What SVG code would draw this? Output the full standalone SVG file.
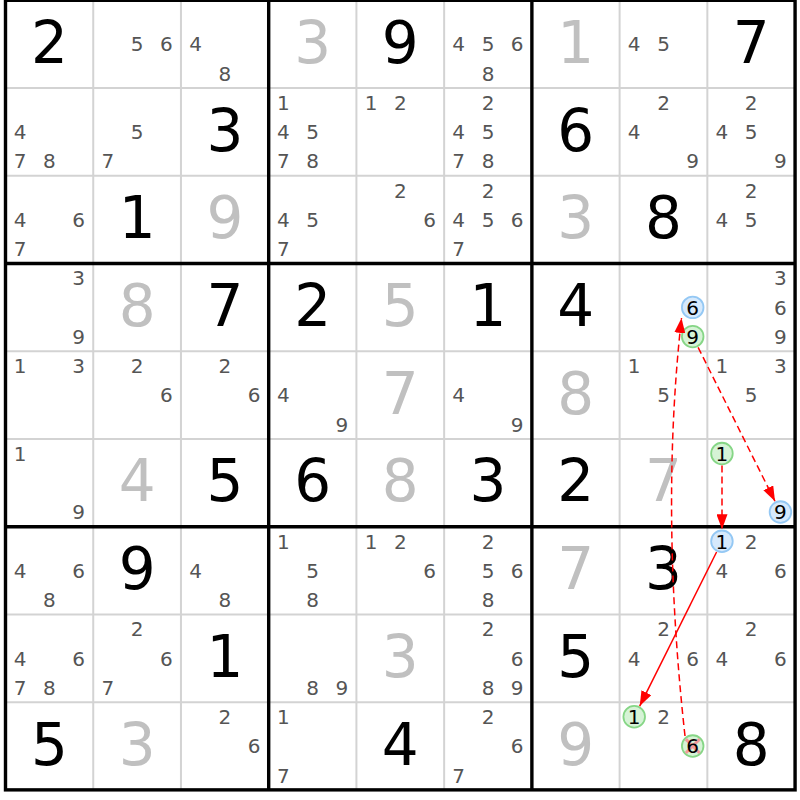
<svg xmlns="http://www.w3.org/2000/svg" width="800" height="800" viewBox="0 0 800 800">
<defs>
<style>
text{font-family:"DejaVu Sans",Verdana,sans-serif;text-anchor:middle}
.s{font-size:58px;fill:#000}
.g{font-size:58px;fill:#c0c0c0}
.c{font-size:20px;fill:#555}
.k{font-size:20px;fill:#000}
.thin{stroke:#d3d3d3;stroke-width:2}
.thick{stroke:#000;stroke-width:3.4;fill:none}
.blue{fill:#d6e9fc;stroke:#94c8f4;stroke-width:1.8}
.green{fill:#d6f3d6;stroke:#86d686;stroke-width:1.8}
.x{stroke:#f09a9a;stroke-width:3}
.arr{fill:none;stroke:#f00;stroke-width:1.5}
.dash{stroke-dasharray:7 4}
</style>
<marker id="ah" markerUnits="userSpaceOnUse" markerWidth="15" markerHeight="11" refX="15" refY="5.5" orient="auto"><path d="M0,0 L15,5.5 L0,11 z" fill="#f00"/></marker>
</defs>
<rect x="0" y="0" width="800" height="800" fill="#fff"/>
<g id="grid">
<g class="thin">
<line x1="93.23" y1="0.3" x2="93.23" y2="789.87"/>
<line x1="180.96" y1="0.3" x2="180.96" y2="789.87"/>
<line x1="356.42" y1="0.3" x2="356.42" y2="789.87"/>
<line x1="444.15" y1="0.3" x2="444.15" y2="789.87"/>
<line x1="619.61" y1="0.3" x2="619.61" y2="789.87"/>
<line x1="707.34" y1="0.3" x2="707.34" y2="789.87"/>
<line x1="5.5" y1="88.03" x2="795.07" y2="88.03"/>
<line x1="5.5" y1="175.76" x2="795.07" y2="175.76"/>
<line x1="5.5" y1="351.22" x2="795.07" y2="351.22"/>
<line x1="5.5" y1="438.95" x2="795.07" y2="438.95"/>
<line x1="5.5" y1="614.41" x2="795.07" y2="614.41"/>
<line x1="5.5" y1="702.14" x2="795.07" y2="702.14"/>
</g>
<g class="thick">
<line x1="268.69" y1="0.3" x2="268.69" y2="789.87"/>
<line x1="531.88" y1="0.3" x2="531.88" y2="789.87"/>
<line x1="5.5" y1="263.49" x2="795.07" y2="263.49"/>
<line x1="5.5" y1="526.68" x2="795.07" y2="526.68"/>
<rect x="5.5" y="0.3" width="789.57" height="789.57"/>
</g>
</g>
<g id="cells">
<!-- row 1 -->
<g id="r1c1" transform="translate(5.5,0.3)"><text class="s" x="43.9" y="62.5">2</text></g>
<g id="r1c2" transform="translate(93.23,0.3)"><text class="c" x="43.9" y="51.2">5</text><text class="c" x="73.1" y="51.2">6</text></g>
<g id="r1c3" transform="translate(180.96,0.3)"><text class="c" x="14.6" y="51.2">4</text><text class="c" x="43.9" y="80.4">8</text></g>
<g id="r1c4" transform="translate(268.69,0.3)"><text class="g" x="43.9" y="62.5">3</text></g>
<g id="r1c5" transform="translate(356.42,0.3)"><text class="s" x="43.9" y="62.5">9</text></g>
<g id="r1c6" transform="translate(444.15,0.3)"><text class="c" x="14.6" y="51.2">4</text><text class="c" x="43.9" y="51.2">5</text><text class="c" x="73.1" y="51.2">6</text><text class="c" x="43.9" y="80.4">8</text></g>
<g id="r1c7" transform="translate(531.88,0.3)"><text class="g" x="43.9" y="62.5">1</text></g>
<g id="r1c8" transform="translate(619.61,0.3)"><text class="c" x="14.6" y="51.2">4</text><text class="c" x="43.9" y="51.2">5</text></g>
<g id="r1c9" transform="translate(707.34,0.3)"><text class="s" x="43.9" y="62.5">7</text></g>
<!-- row 2 -->
<g id="r2c1" transform="translate(5.5,88.03)"><text class="c" x="14.6" y="51.2">4</text><text class="c" x="14.6" y="80.4">7</text><text class="c" x="43.9" y="80.4">8</text></g>
<g id="r2c2" transform="translate(93.23,88.03)"><text class="c" x="43.9" y="51.2">5</text><text class="c" x="14.6" y="80.4">7</text></g>
<g id="r2c3" transform="translate(180.96,88.03)"><text class="s" x="43.9" y="62.5">3</text></g>
<g id="r2c4" transform="translate(268.69,88.03)"><text class="c" x="14.6" y="21.9">1</text><text class="c" x="14.6" y="51.2">4</text><text class="c" x="43.9" y="51.2">5</text><text class="c" x="14.6" y="80.4">7</text><text class="c" x="43.9" y="80.4">8</text></g>
<g id="r2c5" transform="translate(356.42,88.03)"><text class="c" x="14.6" y="21.9">1</text><text class="c" x="43.9" y="21.9">2</text></g>
<g id="r2c6" transform="translate(444.15,88.03)"><text class="c" x="43.9" y="21.9">2</text><text class="c" x="14.6" y="51.2">4</text><text class="c" x="43.9" y="51.2">5</text><text class="c" x="14.6" y="80.4">7</text><text class="c" x="43.9" y="80.4">8</text></g>
<g id="r2c7" transform="translate(531.88,88.03)"><text class="s" x="43.9" y="62.5">6</text></g>
<g id="r2c8" transform="translate(619.61,88.03)"><text class="c" x="43.9" y="21.9">2</text><text class="c" x="14.6" y="51.2">4</text><text class="c" x="73.1" y="80.4">9</text></g>
<g id="r2c9" transform="translate(707.34,88.03)"><text class="c" x="43.9" y="21.9">2</text><text class="c" x="14.6" y="51.2">4</text><text class="c" x="43.9" y="51.2">5</text><text class="c" x="73.1" y="80.4">9</text></g>
<!-- row 3 -->
<g id="r3c1" transform="translate(5.5,175.76)"><text class="c" x="14.6" y="51.2">4</text><text class="c" x="73.1" y="51.2">6</text><text class="c" x="14.6" y="80.4">7</text></g>
<g id="r3c2" transform="translate(93.23,175.76)"><text class="s" x="43.9" y="62.5">1</text></g>
<g id="r3c3" transform="translate(180.96,175.76)"><text class="g" x="43.9" y="62.5">9</text></g>
<g id="r3c4" transform="translate(268.69,175.76)"><text class="c" x="14.6" y="51.2">4</text><text class="c" x="43.9" y="51.2">5</text><text class="c" x="14.6" y="80.4">7</text></g>
<g id="r3c5" transform="translate(356.42,175.76)"><text class="c" x="43.9" y="21.9">2</text><text class="c" x="73.1" y="51.2">6</text></g>
<g id="r3c6" transform="translate(444.15,175.76)"><text class="c" x="43.9" y="21.9">2</text><text class="c" x="14.6" y="51.2">4</text><text class="c" x="43.9" y="51.2">5</text><text class="c" x="73.1" y="51.2">6</text><text class="c" x="14.6" y="80.4">7</text></g>
<g id="r3c7" transform="translate(531.88,175.76)"><text class="g" x="43.9" y="62.5">3</text></g>
<g id="r3c8" transform="translate(619.61,175.76)"><text class="s" x="43.9" y="62.5">8</text></g>
<g id="r3c9" transform="translate(707.34,175.76)"><text class="c" x="43.9" y="21.9">2</text><text class="c" x="14.6" y="51.2">4</text><text class="c" x="43.9" y="51.2">5</text></g>
<!-- row 4 -->
<g id="r4c1" transform="translate(5.5,263.49)"><text class="c" x="73.1" y="21.9">3</text><text class="c" x="73.1" y="80.4">9</text></g>
<g id="r4c2" transform="translate(93.23,263.49)"><text class="g" x="43.9" y="62.5">8</text></g>
<g id="r4c3" transform="translate(180.96,263.49)"><text class="s" x="43.9" y="62.5">7</text></g>
<g id="r4c4" transform="translate(268.69,263.49)"><text class="s" x="43.9" y="62.5">2</text></g>
<g id="r4c5" transform="translate(356.42,263.49)"><text class="g" x="43.9" y="62.5">5</text></g>
<g id="r4c6" transform="translate(444.15,263.49)"><text class="s" x="43.9" y="62.5">1</text></g>
<g id="r4c7" transform="translate(531.88,263.49)"><text class="s" x="43.9" y="62.5">4</text></g>
<g id="r4c8" transform="translate(619.61,263.49)"><circle class="blue" cx="73.1" cy="43.9" r="10.8"/><text class="k" x="73.1" y="51.2">6</text><circle class="green" cx="73.1" cy="73.1" r="10.8"/><text class="k" x="73.1" y="80.4">9</text></g>
<g id="r4c9" transform="translate(707.34,263.49)"><text class="c" x="73.1" y="21.9">3</text><text class="c" x="73.1" y="51.2">6</text><text class="c" x="73.1" y="80.4">9</text></g>
<!-- row 5 -->
<g id="r5c1" transform="translate(5.5,351.22)"><text class="c" x="14.6" y="21.9">1</text><text class="c" x="73.1" y="21.9">3</text></g>
<g id="r5c2" transform="translate(93.23,351.22)"><text class="c" x="43.9" y="21.9">2</text><text class="c" x="73.1" y="51.2">6</text></g>
<g id="r5c3" transform="translate(180.96,351.22)"><text class="c" x="43.9" y="21.9">2</text><text class="c" x="73.1" y="51.2">6</text></g>
<g id="r5c4" transform="translate(268.69,351.22)"><text class="c" x="14.6" y="51.2">4</text><text class="c" x="73.1" y="80.4">9</text></g>
<g id="r5c5" transform="translate(356.42,351.22)"><text class="g" x="43.9" y="62.5">7</text></g>
<g id="r5c6" transform="translate(444.15,351.22)"><text class="c" x="14.6" y="51.2">4</text><text class="c" x="73.1" y="80.4">9</text></g>
<g id="r5c7" transform="translate(531.88,351.22)"><text class="g" x="43.9" y="62.5">8</text></g>
<g id="r5c8" transform="translate(619.61,351.22)"><text class="c" x="14.6" y="21.9">1</text><text class="c" x="43.9" y="51.2">5</text></g>
<g id="r5c9" transform="translate(707.34,351.22)"><text class="c" x="14.6" y="21.9">1</text><text class="c" x="73.1" y="21.9">3</text><text class="c" x="43.9" y="51.2">5</text></g>
<!-- row 6 -->
<g id="r6c1" transform="translate(5.5,438.95)"><text class="c" x="14.6" y="21.9">1</text><text class="c" x="73.1" y="80.4">9</text></g>
<g id="r6c2" transform="translate(93.23,438.95)"><text class="g" x="43.9" y="62.5">4</text></g>
<g id="r6c3" transform="translate(180.96,438.95)"><text class="s" x="43.9" y="62.5">5</text></g>
<g id="r6c4" transform="translate(268.69,438.95)"><text class="s" x="43.9" y="62.5">6</text></g>
<g id="r6c5" transform="translate(356.42,438.95)"><text class="g" x="43.9" y="62.5">8</text></g>
<g id="r6c6" transform="translate(444.15,438.95)"><text class="s" x="43.9" y="62.5">3</text></g>
<g id="r6c7" transform="translate(531.88,438.95)"><text class="s" x="43.9" y="62.5">2</text></g>
<g id="r6c8" transform="translate(619.61,438.95)"><text class="g" x="43.9" y="62.5">7</text></g>
<g id="r6c9" transform="translate(707.34,438.95)"><circle class="green" cx="14.6" cy="14.6" r="10.8"/><text class="k" x="14.6" y="21.9">1</text><circle class="blue" cx="73.1" cy="73.1" r="10.8"/><text class="k" x="73.1" y="80.4">9</text></g>
<!-- row 7 -->
<g id="r7c1" transform="translate(5.5,526.68)"><text class="c" x="14.6" y="51.2">4</text><text class="c" x="73.1" y="51.2">6</text><text class="c" x="43.9" y="80.4">8</text></g>
<g id="r7c2" transform="translate(93.23,526.68)"><text class="s" x="43.9" y="62.5">9</text></g>
<g id="r7c3" transform="translate(180.96,526.68)"><text class="c" x="14.6" y="51.2">4</text><text class="c" x="43.9" y="80.4">8</text></g>
<g id="r7c4" transform="translate(268.69,526.68)"><text class="c" x="14.6" y="21.9">1</text><text class="c" x="43.9" y="51.2">5</text><text class="c" x="43.9" y="80.4">8</text></g>
<g id="r7c5" transform="translate(356.42,526.68)"><text class="c" x="14.6" y="21.9">1</text><text class="c" x="43.9" y="21.9">2</text><text class="c" x="73.1" y="51.2">6</text></g>
<g id="r7c6" transform="translate(444.15,526.68)"><text class="c" x="43.9" y="21.9">2</text><text class="c" x="43.9" y="51.2">5</text><text class="c" x="73.1" y="51.2">6</text><text class="c" x="43.9" y="80.4">8</text></g>
<g id="r7c7" transform="translate(531.88,526.68)"><text class="g" x="43.9" y="62.5">7</text></g>
<g id="r7c8" transform="translate(619.61,526.68)"><text class="s" x="43.9" y="62.5">3</text></g>
<g id="r7c9" transform="translate(707.34,526.68)"><circle class="blue" cx="14.6" cy="14.6" r="10.8"/><text class="k" x="14.6" y="21.9">1</text><text class="c" x="43.9" y="21.9">2</text><text class="c" x="14.6" y="51.2">4</text><text class="c" x="73.1" y="51.2">6</text></g>
<!-- row 8 -->
<g id="r8c1" transform="translate(5.5,614.41)"><text class="c" x="14.6" y="51.2">4</text><text class="c" x="73.1" y="51.2">6</text><text class="c" x="14.6" y="80.4">7</text><text class="c" x="43.9" y="80.4">8</text></g>
<g id="r8c2" transform="translate(93.23,614.41)"><text class="c" x="43.9" y="21.9">2</text><text class="c" x="73.1" y="51.2">6</text><text class="c" x="14.6" y="80.4">7</text></g>
<g id="r8c3" transform="translate(180.96,614.41)"><text class="s" x="43.9" y="62.5">1</text></g>
<g id="r8c4" transform="translate(268.69,614.41)"><text class="c" x="43.9" y="80.4">8</text><text class="c" x="73.1" y="80.4">9</text></g>
<g id="r8c5" transform="translate(356.42,614.41)"><text class="g" x="43.9" y="62.5">3</text></g>
<g id="r8c6" transform="translate(444.15,614.41)"><text class="c" x="43.9" y="21.9">2</text><text class="c" x="73.1" y="51.2">6</text><text class="c" x="43.9" y="80.4">8</text><text class="c" x="73.1" y="80.4">9</text></g>
<g id="r8c7" transform="translate(531.88,614.41)"><text class="s" x="43.9" y="62.5">5</text></g>
<g id="r8c8" transform="translate(619.61,614.41)"><text class="c" x="43.9" y="21.9">2</text><text class="c" x="14.6" y="51.2">4</text><text class="c" x="73.1" y="51.2">6</text></g>
<g id="r8c9" transform="translate(707.34,614.41)"><text class="c" x="43.9" y="21.9">2</text><text class="c" x="14.6" y="51.2">4</text><text class="c" x="73.1" y="51.2">6</text></g>
<!-- row 9 -->
<g id="r9c1" transform="translate(5.5,702.14)"><text class="s" x="43.9" y="62.5">5</text></g>
<g id="r9c2" transform="translate(93.23,702.14)"><text class="g" x="43.9" y="62.5">3</text></g>
<g id="r9c3" transform="translate(180.96,702.14)"><text class="c" x="43.9" y="21.9">2</text><text class="c" x="73.1" y="51.2">6</text></g>
<g id="r9c4" transform="translate(268.69,702.14)"><text class="c" x="14.6" y="21.9">1</text><text class="c" x="14.6" y="80.4">7</text></g>
<g id="r9c5" transform="translate(356.42,702.14)"><text class="s" x="43.9" y="62.5">4</text></g>
<g id="r9c6" transform="translate(444.15,702.14)"><text class="c" x="43.9" y="21.9">2</text><text class="c" x="73.1" y="51.2">6</text><text class="c" x="14.6" y="80.4">7</text></g>
<g id="r9c7" transform="translate(531.88,702.14)"><text class="g" x="43.9" y="62.5">9</text></g>
<g id="r9c8" transform="translate(619.61,702.14)"><circle class="green" cx="14.6" cy="14.6" r="10.8"/><text class="k" x="14.6" y="21.9">1</text><text class="c" x="43.9" y="21.9">2</text><circle class="green" cx="73.1" cy="43.9" r="10.8"/><line class="x" x1="66.2" y1="37" x2="80" y2="50.8"/><line class="x" x1="66.2" y1="50.8" x2="80" y2="37"/><text class="k" x="73.1" y="51.2">6</text></g>
<g id="r9c9" transform="translate(707.34,702.14)"><text class="s" x="43.9" y="62.5">8</text></g>
</g>
<g id="connectors">
<path class="arr dash" d="M685,736 Q660,510 681.5,318" marker-end="url(#ah)"/>
<path class="arr dash" d="M698.1,347.3 L775,501.3" marker-end="url(#ah)"/>
<path class="arr dash" d="M722,465.6 L722,529.3" marker-end="url(#ah)"/>
<path class="arr" d="M716.6,552 L639.7,706.1" marker-end="url(#ah)"/>
</g>
</svg>
